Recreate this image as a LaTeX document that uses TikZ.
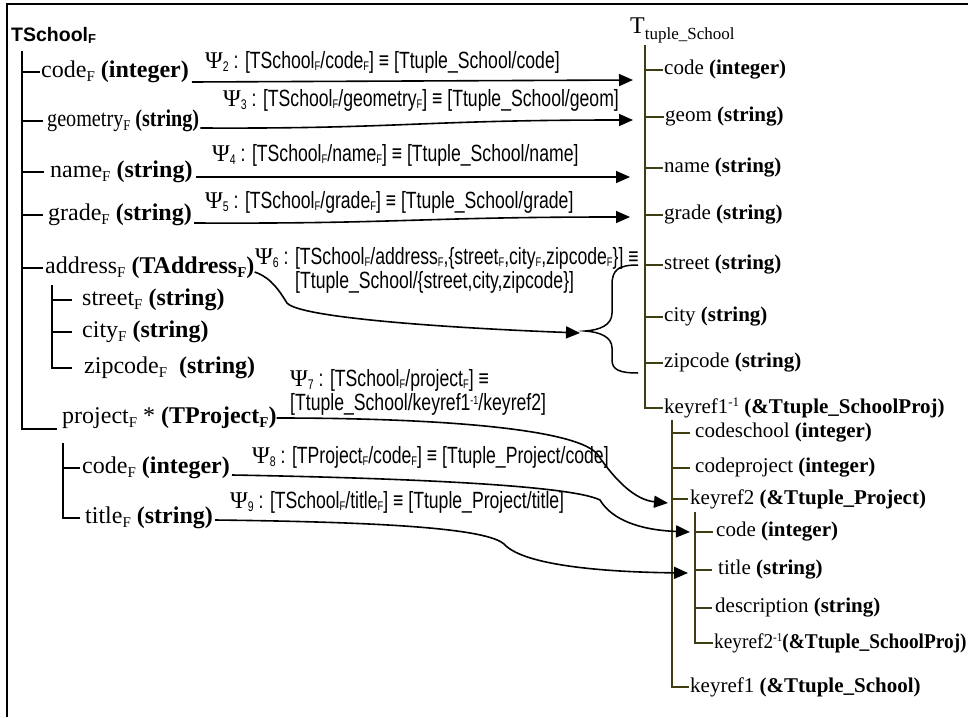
\documentclass[tikz,border=0pt]{standalone}
\usepackage{fontspec}
\setmainfont{Liberation Serif}
\newfontfamily\labfont[FakeStretch=0.75]{Liberation Sans}
\newfontfamily\hdfont{Liberation Sans}
\usetikzlibrary{arrows.meta,calc}
\definecolor{treeolive}{RGB}{64,60,20}
\newcommand\rF{\raisebox{-4pt}{\fontsize{15}{15}\selectfont F}}
\newcommand\sF{\raisebox{-2.5pt}{\fontsize{12.5}{12.5}\selectfont F}}
\newcommand\Ps[1]{{\rmfamily\fontsize{24}{24}\selectfont Ψ}\raisebox{-3pt}{\fontsize{14}{14}\selectfont #1}}
\newcommand\supm{\raisebox{7pt}{\fontsize{13}{13}\selectfont -1}}
\tikzset{
 lt/.style={anchor=west,inner sep=0pt,font=\fontsize{24}{28}\selectfont},
 rt/.style={anchor=west,inner sep=0pt,font=\fontsize{21}{25}\selectfont},
 lb/.style={anchor=west,inner sep=0pt,align=left,font=\labfont\fontsize{23.5}{24}\selectfont},
 tree/.style={line width=1.6pt},
 rtree/.style={line width=1.6pt,draw=treeolive},
 arr/.style={line width=1.6pt,-{Triangle[length=14pt,width=12pt]}},
}
\begin{document}
\begin{tikzpicture}[x=1pt,y=-1pt]
\useasboundingbox (0,0) rectangle (968,717);
\draw[line width=1.5pt] (7,717) -- (7,4) -- (968,4);
% left tree
\node[lt] (ts) at (11,35) {\hdfont\bfseries\fontsize{19.5}{20}\selectfont TSchool\raisebox{-2pt}{\fontsize{13}{13}\selectfont F}};
\node[lt] (lcode) at (41,72) {code\rF{} \textbf{(integer)}};
\node[lt] (lgeom) at (47,121) {\scalebox{0.84}[1]{geometry\rF{} \textbf{(string)}}};
\node[lt] (lname) at (50,172) {name\rF{} \textbf{(string)}};
\node[lt] (lgrade) at (48,215) {grade\rF{} \textbf{(string)}};
\node[lt] (laddr) at (45,268) {address\rF{} \textbf{(TAddress\rF)}};
\node[lt] (lstreet) at (82,300) {street\rF{} \textbf{(string)}};
\node[lt] (lcity) at (82,332) {city\rF{} \textbf{(string)}};
\node[lt] (lzip) at (84,368) {zipcode\rF{}\ \ \textbf{(string)}};
\node[lt] (lproj) at (62,418) {project\rF{} * \textbf{(TProject\rF)}};
\node[lt] (lpcode) at (82,468) {code\rF{} \textbf{(integer)}};
\node[lt] (ltitle) at (85,518) {title\rF{} \textbf{(string)}};
\coordinate (sp) at (22,51);
\draw[tree] (sp) -- (sp |- 0,429) -- ([xshift=-5pt]lproj.west |- 0,429);
\foreach \n/\g in {lcode/1,lgeom/4,lname/6,lgrade/5,laddr/2}
  \draw[tree] (\n.west -| sp) -- ([xshift=-\g pt]\n.west);
\coordinate (sp2) at (52,285);
\draw[tree] (sp2) -- (sp2 |- lzip.west) -- ([xshift=-12pt]lzip.west);
\foreach \n in {lstreet,lcity}
  \draw[tree] (\n.west -| sp2) -- ([xshift=-10pt]\n.west);
\coordinate (sp3) at (63,443);
\draw[tree] (sp3) -- (sp3 |- ltitle.west) -- ([xshift=-5pt]ltitle.west);
\draw[tree] (lpcode.west -| sp3) -- ([xshift=-2pt]lpcode.west);
% right tree
\node[anchor=west,inner sep=0pt] (tt) at (630,30) {\fontsize{24}{24}\selectfont T\raisebox{-6pt}{\fontsize{17}{17}\selectfont tuple\_School}};
\node[rt] (rcode) at (664,70) {code \textbf{(integer)}};
\node[rt] (rgeom) at (665,117) {geom \textbf{(string)}};
\node[rt] (rname) at (664,168) {name \textbf{(string)}};
\node[rt] (rgrade) at (664,215) {grade \textbf{(string)}};
\node[rt] (rstreet) at (664,265) {street \textbf{(string)}};
\node[rt] (rcity) at (664,317) {city \textbf{(string)}};
\node[rt] (rzip) at (664,363) {zipcode \textbf{(string)}};
\node[rt] (rk1inv) at (664,408) {keyref1\supm{} \textbf{(\&Ttuple\_SchoolProj)}};
\node[rt] (rcs) at (695,433) {codeschool \textbf{(integer)}};
\node[rt] (rcp) at (695,468) {codeproject \textbf{(integer)}};
\node[rt] (rk2) at (690,499) {keyref2 \textbf{(\&Ttuple\_Project)}};
\node[rt] (rpcode) at (716,532) {code \textbf{(integer)}};
\node[rt] (rptitle) at (718,570) {title \textbf{(string)}};
\node[rt] (rdesc) at (715,608) {description \textbf{(string)}};
\node[rt] (rk2inv) at (714,643) {\scalebox{0.92}[1]{keyref2\raisebox{7pt}{\fontsize{12}{12}\selectfont -1}\textbf{(\&Ttuple\_SchoolProj)}}};
\node[rt] (rk1) at (690,687) {keyref1 \textbf{(\&Ttuple\_School)}};
\coordinate (rs) at (645,45);
\draw[rtree] (rs) -- (rs |- rk1inv.west) -- ([xshift=-1pt]rk1inv.west);
\foreach \n in {rcode,rgeom,rname,rgrade,rstreet,rcity,rzip}
  \draw[rtree] (\n.west -| rs) -- ([xshift=-1pt]\n.west);
\coordinate (rs2) at (672,420);
\draw[rtree] (rs2) -- (rs2 |- rk1.west) -- ([xshift=-1pt]rk1.west);
\foreach \n/\g in {rcs/5,rcp/5,rk2/2}
  \draw[rtree] (\n.west -| rs2) -- ([xshift=-\g pt]\n.west);
\coordinate (rs3) at (695,512);
\draw[rtree] (rs3) -- (rs3 |- rk2inv.west) -- ([xshift=-1pt]rk2inv.west);
\foreach \n/\g in {rpcode/3,rptitle/6,rdesc/3}
  \draw[rtree] (\n.west -| rs3) -- ([xshift=-\g pt]\n.west);
% labels
\node[lb] (p2) at (205,62) {\Ps{2} : [TSchool\sF/code\sF] ≡ [Ttuple\_School/code]};
\node[lb] (p3) at (223,100) {\Ps{3} : [TSchool\sF/geometry\sF] ≡ [Ttuple\_School/geom]};
\node[lb] (p4) at (212,155) {\Ps{4} : [TSchool\sF/name\sF] ≡ [Ttuple\_School/name]};
\node[lb] (p5) at (205,202) {\Ps{5} : [TSchool\sF/grade\sF] ≡ [Ttuple\_School/grade]};
\node[lb] (p6) at (255,270) {\Ps{6} : [TSchool\sF/address\sF,\{street\sF,city\sF,zipcode\sF\}] ≡\\\hspace*{40pt}[Ttuple\_School/\{street,city,zipcode\}]};
\node[lb] (p7) at (290,392) {\Ps{7} : [TSchool\sF/project\sF] ≡\\{}[Ttuple\_School/keyref1\raisebox{6pt}{\fontsize{12}{12}\selectfont -1}/keyref2]};
\node[lb] (p8) at (252,457) {\Ps{8} : [TProject\sF/code\sF] ≡ [Ttuple\_Project/code]};
\node[lb] (p9) at (230,502) {\Ps{9} : [TSchool\sF/title\sF] ≡ [Ttuple\_Project/title]};
% arrow ends
\coordinate (a2) at (633,80);
\coordinate (a3) at (633,120);
\coordinate (a4) at (630,177);
\coordinate (a5) at (630,217);
\coordinate (a6) at (580,333);
\coordinate (a7) at (668,503);
\coordinate (a8) at (690,532);
\coordinate (a9) at (688,573);
\draw[arr] ($(lcode.east)+(3,10)$) -- (a2);
\draw[arr] ($(lgeom.east)+(1,7)$) .. controls (400,129) and (420,120) .. (a3);
\draw[arr] ($(lname.east)+(3,5)$) -- (a4);
\draw[arr] ($(lgrade.east)+(2,8)$) .. controls (400,224) and (420,217) .. (a5);
\draw[arr] ($(laddr.east)+(0,4)$) .. controls (272,278) and (280,292) .. (287,303) .. controls (300,318) and (450,328) .. (a6);
\draw[arr] (lproj.east) .. controls (450,418) and (580,430) .. (598,455) .. controls (615,480) and (635,500) .. (a7);
\draw[arr] ($(lpcode.east)+(2,7)$) .. controls (400,478) and (570,485) .. (600,500) .. controls (612,520) and (640,530) .. (a8);
\draw[arr] ($(ltitle.east)+(2,2)$) .. controls (380,522) and (490,528) .. (505,545) .. controls (525,565) and (600,572) .. (a9);
% brace
\draw[line width=1.5pt] (638,265) .. controls (618,265) and (612,270) .. (612,285) -- (612,313) .. controls (612,325) and (600,330) .. (585,331) .. controls (600,332) and (612,337) .. (612,348) -- (612,360) .. controls (612,370) and (620,373) .. (638,373);
\end{tikzpicture}
\end{document}
